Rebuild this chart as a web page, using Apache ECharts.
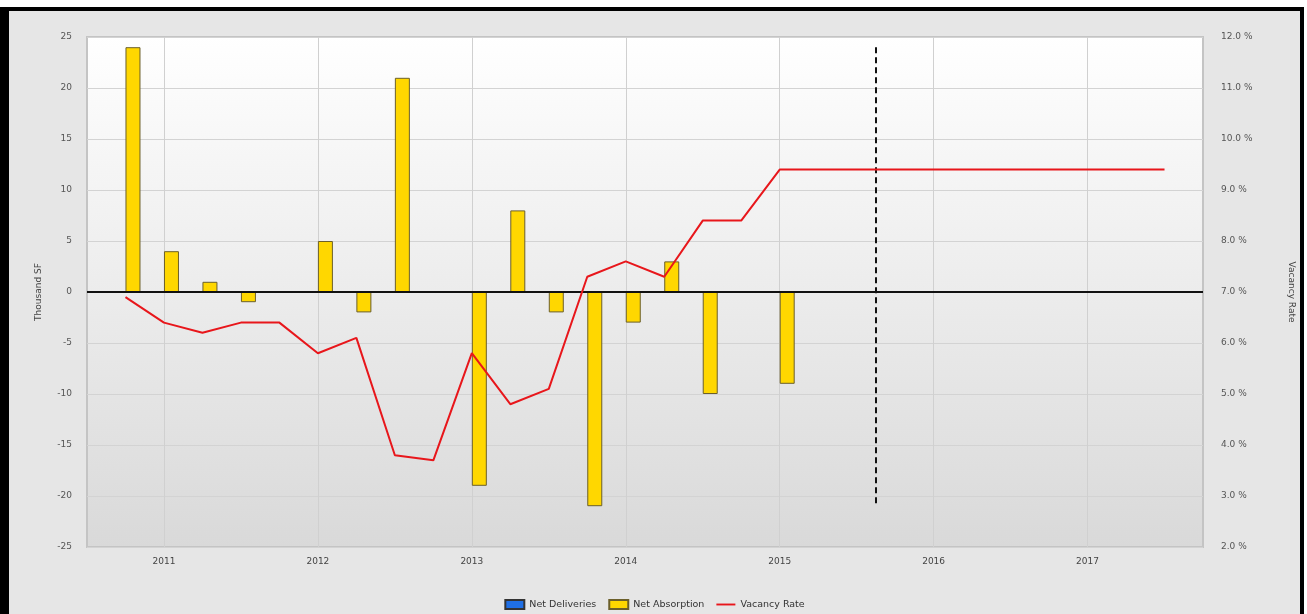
<!DOCTYPE html>
<html>
<head>
<meta charset="utf-8">
<script src="https://cdn.jsdelivr.net/npm/echarts@6/dist/echarts.min.js"></script>
<style>
html,body{margin:0;padding:0;background:#ffffff;width:1307px;height:614px;overflow:hidden;}
#frame{position:absolute;left:0;top:7px;width:1291px;height:607px;border-top:4px solid #000;border-left:9px solid #000;border-right:4px solid #000;background:#e6e6e6;}
#chart{position:absolute;left:0;top:0;width:1291px;height:603px;}
</style>
</head>
<body>
<div id="frame"><div id="chart"></div></div>
<script>
// Quarter positions (year fractions)
var quarters = [2010.75, 2011.0, 2011.25, 2011.5, 2011.75, 2012.0, 2012.25, 2012.5, 2012.75,
  2013.0, 2013.25, 2013.5, 2013.75, 2014.0, 2014.25, 2014.5, 2014.75, 2015.0,
  2015.25, 2015.5, 2015.75, 2016.0, 2016.25, 2016.5, 2016.75, 2017.0, 2017.25, 2017.5];
// Net Absorption (thousand SF), 2010Q4 .. 2015Q1
var netAbsorption = [24, 4, 1, -1, 0, 5, -2, 21, 0, -19, 8, -2, -21, -3, 3, -10, 0, -9];
// Net Deliveries (thousand SF)
var netDeliveries = [0, 0, 0, 0, 0, 0, 0, 0, 0, 0, 0, 0, 0, 0, 0, 0, 0, 0];
// Vacancy rate (%)
var vacancyRate = [6.9, 6.4, 6.2, 6.4, 6.4, 5.8, 6.1, 3.8, 3.7, 5.8, 4.8, 5.1, 7.3, 7.6, 7.3, 8.4, 8.4, 9.4,
  9.4, 9.4, 9.4, 9.4, 9.4, 9.4, 9.4, 9.4, 9.4, 9.4];
// Year tick labels / gridlines
var years = [2011, 2012, 2013, 2014, 2015, 2016, 2017];
// Forecast divider
var forecastX = 2015.625;
var forecastTop = 24;
var forecastBottom = -21;
var xMin = 2010.5, xMax = 2017.75;

function pairs(xs, ys){ var out=[]; for (var i=0;i<ys.length;i++) out.push([xs[i], ys[i]]); return out; }

var chart = echarts.init(document.getElementById('chart'), null, {renderer:'canvas'});
var FONT = 'DejaVu Sans';
var option = {
  animation: false,
  backgroundColor: '#e6e6e6',
  grid: {
    left: 78, top: 26, width: 1116, height: 510,
    outerBoundsMode: 'none', containLabel: false,
    show: true, z: 0,
    borderColor: '#c4c4c4', borderWidth: 2,
    backgroundColor: new echarts.graphic.LinearGradient(0, 0, 0, 1, [
      {offset: 0, color: '#ffffff'},
      {offset: 1, color: '#d9d9d9'}
    ])
  },
  legend: {
    top: 583, left: 'center',
    itemWidth: 19, itemHeight: 9, itemGap: 12,
    textStyle: {fontFamily: FONT, fontSize: 9.5, color: '#333'},
    data: [
      {name: 'Net Deliveries', icon: 'rect'},
      {name: 'Net Absorption', icon: 'rect'},
      {name: 'Vacancy Rate', icon: 'path://M0,0 M0,9 M0,3.5 L20,3.5 L20,5.5 L0,5.5 Z'}
    ]
  },
  xAxis: {
    type: 'value', min: xMin, max: xMax, interval: 0.25,
    axisLine: {show: false}, axisTick: {show: false}, splitLine: {show: false},
    axisLabel: {
      margin: 10, fontFamily: FONT, fontSize: 9, color: '#444',
      formatter: function(v){ return Number.isInteger(v) ? String(v) : ''; }
    }
  },
  yAxis: [
    {
      type: 'value', min: -25, max: 25, interval: 5,
      name: 'Thousand SF', nameLocation: 'middle', nameGap: 44,
      nameTextStyle: {fontFamily: FONT, fontSize: 9, color: '#444'},
      axisLine: {show: false}, axisTick: {show: false},
      splitLine: {show: true, lineStyle: {color: '#d3d3d3', width: 1}},
      axisLabel: {margin: 15, fontFamily: FONT, fontSize: 9, color: '#555'}
    },
    {
      type: 'value', min: 2, max: 12, interval: 1, position: 'right',
      name: 'Vacancy Rate', nameLocation: 'middle', nameGap: 84, nameRotate: -90,
      nameTextStyle: {fontFamily: FONT, fontSize: 9, color: '#444'},
      axisLine: {show: false}, axisTick: {show: false}, splitLine: {show: false},
      axisLabel: {margin: 18, fontFamily: FONT, fontSize: 9, color: '#555',
        formatter: function(v){ return v.toFixed(1) + ' %'; }}
    }
  ],
  series: [
    {
      name: 'gridYears', type: 'line', yAxisIndex: 0, z: 1, silent: true,
      data: [], symbol: 'none',
      markLine: {
        z: 1,
        silent: true, symbol: ['none', 'none'], label: {show: false},
        lineStyle: {color: '#d0d0d0', width: 1, type: 'solid'},
        data: years.map(function(y){ return {xAxis: y}; })
      }
    },
    {
      name: 'Net Deliveries', type: 'bar', yAxisIndex: 0, z: 2,
      barWidth: 15, barGap: '0%',
      itemStyle: {color: '#1f6fe5', borderColor: '#333', borderWidth: 1},
      data: pairs(quarters, netDeliveries)
    },
    {
      name: 'Net Absorption', type: 'bar', yAxisIndex: 0, z: 2,
      barWidth: 15, barGap: '0%',
      itemStyle: {color: '#ffd700', borderColor: '#6b5f2a', borderWidth: 1},
      data: pairs(quarters, netAbsorption)
    },
    {
      name: 'refLines', type: 'line', yAxisIndex: 0, z: 4, silent: true,
      data: [], symbol: 'none',
      markLine: {
        z: 4,
        silent: true, symbol: ['none', 'none'], label: {show: false},
        data: [
          [{coord: [xMin, 0], lineStyle: {color: '#111', width: 2, type: 'solid'}}, {coord: [xMax, 0]}],
          [{coord: [forecastX, forecastTop], lineStyle: {color: '#111', width: 2, type: [6, 4]}}, {coord: [forecastX, forecastBottom]}]
        ]
      }
    },
    {
      name: 'Vacancy Rate', type: 'line', yAxisIndex: 1, z: 5,
      symbol: 'none', showSymbol: false,
      lineStyle: {color: '#e8161b', width: 2},
      itemStyle: {color: '#e8161b'},
      data: pairs(quarters, vacancyRate)
    }
  ]
};
chart.setOption(option);
</script>
</body>
</html>
